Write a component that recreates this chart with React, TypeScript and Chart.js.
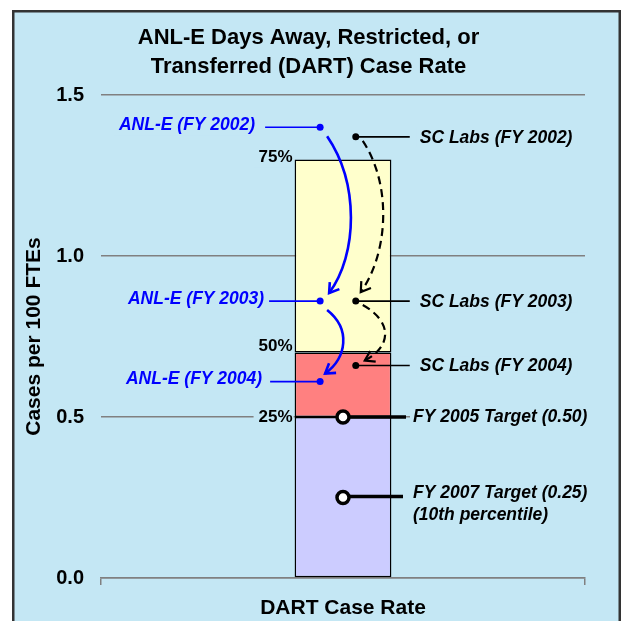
import React, { useEffect, useRef } from "react";
import { Chart, registerables } from "chart.js";

Chart.register(...registerables);

// ---------- data ----------
const categories = ["DART Case Rate"];
const titleLines = ["ANL-E Days Away, Restricted, or", "Transferred (DART) Case Rate"];
const yAxisTitle = "Cases per 100 FTEs";
const yTicks = [0, 0.5, 1.0, 1.5];
const quartileLabels = ["25%", "50%", "75%"];
const quartileValues = [0.5, 0.7, 1.3];
const fiscalYears = ["FY 2002", "FY 2003", "FY 2004"];
const anlValues = [1.4, 0.86, 0.61];
const scValues = [1.37, 0.86, 0.66];
const targetLabels = ["FY 2005 Target (0.50)", "FY 2007 Target (0.25)"];
const targetValues = [0.5, 0.25];
const targetNote = "(10th percentile)";

// ---------- style / layout constants ----------
const FAMILY = "'Liberation Sans', Arial, Helvetica, sans-serif";
const BG = "#C4E7F4";
const BLUE = "#0000FF";
const ANL_X = 0.448;
const SC_X = 0.529;
const TARGET_X = 0.5;
const LABEL_FONT = `italic bold 17.5px ${FAMILY}`;
const PCT_FONT = `bold 17px ${FAMILY}`;
const pctOffsets = [0, -6, -2];
const anlTextOffsets = [-65, -56, -58];
const anlLineOffsets = [-55, -51, -50];

function drawLabel(
  ctx: CanvasRenderingContext2D,
  text: string,
  x: number,
  y: number,
  align: "left" | "right",
  color: string,
  font: string
) {
  ctx.font = font;
  const w = ctx.measureText(text).width;
  const left = align === "right" ? x - w - 5 : x - 3;
  const right = align === "right" ? x + 1 : x + w + 5;
  ctx.fillStyle = BG;
  ctx.fillRect(left, y - 10, right - left, 20);
  ctx.fillStyle = color;
  ctx.textAlign = align;
  ctx.textBaseline = "middle";
  ctx.fillText(text, x, y);
}

function hLine(ctx: CanvasRenderingContext2D, x1: number, x2: number, y: number, color: string, w: number) {
  ctx.save();
  ctx.strokeStyle = color;
  ctx.lineWidth = w;
  ctx.beginPath();
  ctx.moveTo(x1, y);
  ctx.lineTo(x2, y);
  ctx.stroke();
  ctx.restore();
}

function curvedArrow(
  ctx: CanvasRenderingContext2D,
  sx: number,
  sy: number,
  ex: number,
  ey: number,
  bulge: number,
  color: string,
  width: number,
  dash: number[]
) {
  const c1x = sx + bulge, c1y = sy + (ey - sy) * 0.3;
  const c2x = ex + bulge * 0.9, c2y = sy + (ey - sy) * 0.75;
  ctx.save();
  ctx.strokeStyle = color;
  ctx.lineWidth = width;
  ctx.setLineDash(dash);
  ctx.beginPath();
  ctx.moveTo(sx, sy);
  ctx.bezierCurveTo(c1x, c1y, c2x, c2y, ex, ey);
  ctx.stroke();
  ctx.setLineDash([]);
  const ang = Math.atan2(ey - c2y, ex - c2x);
  const L = 11, a = Math.PI / 5.5;
  ctx.beginPath();
  ctx.moveTo(ex - L * Math.cos(ang - a), ey - L * Math.sin(ang - a));
  ctx.lineTo(ex, ey);
  ctx.lineTo(ex - L * Math.cos(ang + a), ey - L * Math.sin(ang + a));
  ctx.stroke();
  ctx.restore();
}

const framePlugin = {
  id: "frame",
  beforeDraw(chart: any) {
    const { ctx, width, height } = chart;
    ctx.save();
    ctx.fillStyle = "#ffffff";
    ctx.fillRect(0, 0, width, height);
    ctx.fillStyle = BG;
    ctx.fillRect(13, 11, 607, height);
    ctx.strokeStyle = "#333333";
    ctx.lineWidth = 2.5;
    ctx.strokeRect(13.25, 11.25, 606.5, height + 20);
    ctx.restore();
  },
};

const annotationPlugin = {
  id: "annotations",
  beforeDatasetsDraw(chart: any) {
    const { ctx, scales } = chart;
    const y = scales.y, xp = scales.xp;
    const bar = chart.getDatasetMeta(0).data[0] as any;
    const barLeft = bar.x - bar.width / 2;
    ctx.save();
    quartileLabels.forEach((t, i) => {
      drawLabel(ctx, t, barLeft - 2, y.getPixelForValue(quartileValues[i]) + pctOffsets[i], "right", "#000", PCT_FONT);
    });
    const ax = xp.getPixelForValue(ANL_X);
    anlValues.forEach((v, i) => {
      drawLabel(ctx, `ANL-E (${fiscalYears[i]})`, ax + anlTextOffsets[i], y.getPixelForValue(v) - 2, "right", BLUE, LABEL_FONT);
    });
    const sx = xp.getPixelForValue(SC_X);
    scValues.forEach((v, i) => {
      drawLabel(ctx, `SC Labs (${fiscalYears[i]})`, sx + 64, y.getPixelForValue(v) + 1, "left", "#000", LABEL_FONT);
    });
    const tx = xp.getPixelForValue(TARGET_X);
    targetValues.forEach((v, i) => {
      const py = y.getPixelForValue(v);
      drawLabel(ctx, targetLabels[i], tx + 70, i === 0 ? py : py - 4, "left", "#000", LABEL_FONT);
      if (i === 1) drawLabel(ctx, targetNote, tx + 70, py + 18, "left", "#000", LABEL_FONT);
    });
    ctx.restore();
  },
  afterDatasetsDraw(chart: any) {
    const { ctx, scales } = chart;
    const y = scales.y, xp = scales.xp;
    const ax = xp.getPixelForValue(ANL_X);
    const sx = xp.getPixelForValue(SC_X);
    const tx = xp.getPixelForValue(TARGET_X);
    anlValues.forEach((v, i) => hLine(ctx, ax + anlLineOffsets[i], ax - 3, y.getPixelForValue(v), BLUE, 1.6));
    scValues.forEach((v) => hLine(ctx, sx + 3, sx + 54, y.getPixelForValue(v), "#000", 1.6));
    targetValues.forEach((v, i) => hLine(ctx, tx + 7, tx + (i === 0 ? 63 : 60), y.getPixelForValue(v) - (i === 0 ? 0 : 1), "#000", 3.5));
    const bulgesA = [32, 24];
    const bulgesS = [30, 30];
    for (let i = 0; i < anlValues.length - 1; i++) {
      const y0 = y.getPixelForValue(anlValues[i]);
      const y1 = y.getPixelForValue(anlValues[i + 1]);
      curvedArrow(ctx, ax + 7, y0 + 9, ax + (i === 0 ? 9 : 5), y1 - 8, bulgesA[i], BLUE, 2.6, []);
    }
    for (let i = 0; i < scValues.length - 1; i++) {
      const y0 = y.getPixelForValue(scValues[i]);
      const y1 = y.getPixelForValue(scValues[i + 1]);
      curvedArrow(ctx, sx + 7, y0 + 4, sx + (i === 0 ? 5 : 9), y1 - (i === 0 ? 9 : 5), bulgesS[i], "#000", 2.2, [8, 5]);
    }
  },
};

export default function App() {
  const ref = useRef<HTMLCanvasElement | null>(null);
  useEffect(() => {
    if (!ref.current) return;
    Chart.defaults.font.family = FAMILY;
    const bands = quartileValues.map((v, i) => [i === 0 ? 0 : quartileValues[i - 1], v]);
    const bandColors = ["#CCCCFF", "#FF8080", "#FFFFCC"];
    const chart = new Chart(ref.current, {
      type: "bar",
      data: {
        labels: categories,
        datasets: [
          ...bands.map((b, i) => ({
            type: "bar" as const,
            label: quartileLabels[i],
            data: [b] as any,
            backgroundColor: bandColors[i],
            borderColor: "#000",
            borderWidth: 1.5,
            borderSkipped: false,
            grouped: false,
            barPercentage: 0.2,
            categoryPercentage: 1,
            xAxisID: "x",
            yAxisID: "y",
            order: 10,
          })),
          {
            type: "scatter" as const,
            label: "ANL-E",
            data: anlValues.map((v) => ({ x: ANL_X, y: v })),
            xAxisID: "xp",
            yAxisID: "y",
            pointRadius: 3.5,
            pointBackgroundColor: BLUE,
            pointBorderWidth: 0,
            order: 1,
          },
          {
            type: "scatter" as const,
            label: "SC Labs",
            data: scValues.map((v) => ({ x: SC_X, y: v })),
            xAxisID: "xp",
            yAxisID: "y",
            pointRadius: 3.5,
            pointBackgroundColor: "#000",
            pointBorderWidth: 0,
            order: 1,
          },
          {
            type: "scatter" as const,
            label: "Targets",
            data: targetValues.map((v) => ({ x: TARGET_X, y: v })),
            xAxisID: "xp",
            yAxisID: "y",
            pointRadius: 6,
            pointBackgroundColor: "#FFFFFF",
            pointBorderColor: "#000",
            pointBorderWidth: 3.5,
            order: 1,
          },
        ] as any,
      },
      options: {
        responsive: false,
        animation: false,
        layout: { padding: { left: 0, right: 5, top: 0, bottom: 0 } },
        plugins: {
          legend: { display: false },
          tooltip: { enabled: false },
          title: {
            display: true,
            text: titleLines,
            color: "#000",
            font: { family: FAMILY, size: 22, weight: "bold", lineHeight: 29 / 22 },
            padding: { top: 23.5, bottom: 13.5 },
          },
        },
        scales: {
          x: {
            type: "category",
            offset: true,
            grid: {
              display: true,
              drawOnChartArea: false,
              drawTicks: true,
              tickLength: 7,
              color: "#808080",
              lineWidth: 1.5,
              offset: true,
            },
            border: { display: true, color: "#808080", width: 1.5 },
            ticks: { color: "#000", font: { family: FAMILY, size: 21, weight: "bold" }, padding: 11 },
            afterFit: (s: any) => {
              s.height = 43;
            },
          },
          xp: {
            type: "linear",
            axis: "x",
            position: "bottom",
            min: 0,
            max: 1,
            display: false,
          },
          y: {
            type: "linear",
            position: "left",
            min: 0,
            max: 1.5,
            afterBuildTicks: (s: any) => {
              s.ticks = yTicks.map((v) => ({ value: v }));
            },
            grid: { color: "#808080", lineWidth: 1.5, drawTicks: false },
            border: { display: false },
            ticks: {
              padding: 17,
              color: "#000",
              font: { family: FAMILY, size: 20, weight: "bold" },
              callback: (v: any) => Number(v).toFixed(1),
            },
            title: {
              display: true,
              text: yAxisTitle,
              color: "#000",
              font: { family: FAMILY, size: 21, weight: "bold" },
              padding: { top: 22, bottom: 0 },
            },
            afterFit: (s: any) => {
              s.width = 101;
            },
          },
          yR: {
            type: "linear",
            position: "right",
            display: true,
            grid: { display: false },
            ticks: { display: false },
            border: { display: false },
            afterFit: (s: any) => {
              s.width = 32;
            },
          },
        },
      } as any,
      plugins: [framePlugin, annotationPlugin],
    });
    return () => chart.destroy();
  }, []);
  return (
    <div style={{ position: "fixed", left: 0, top: 0, width: 622, height: 621 }}>
      <canvas ref={ref} width={622} height={621} style={{ display: "block" }} />
    </div>
  );
}
